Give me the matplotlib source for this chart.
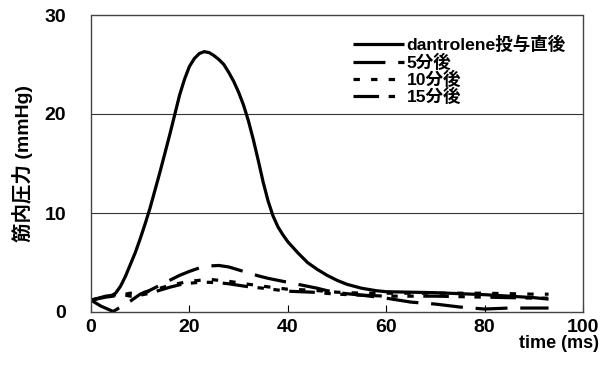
import matplotlib
matplotlib.use("Agg")
import matplotlib.pyplot as plt

plt.rcParams['font.family'] = ['Liberation Sans', 'Noto Sans CJK JP', 'DejaVu Sans']

# data
x_d0 = [0, 1, 2, 3, 4, 5, 6, 7, 8, 9, 10, 11, 12, 13, 14, 15, 16, 17, 18, 19, 20, 21, 22, 23,
        24, 25, 26, 27, 28, 29, 30, 31, 32, 33, 34, 35, 36, 37, 38, 39, 40, 42, 44, 46, 48, 50,
        52, 55, 58, 60, 65, 70, 75, 80, 85, 90, 93]
y_d0 = [1.2, 1.3, 1.4, 1.5, 1.6, 1.9, 2.6, 3.6, 4.8, 6.0, 7.4, 8.9, 10.5, 12.3, 14.1, 16.0,
        17.9, 19.9, 21.9, 23.5, 24.8, 25.6, 26.1, 26.3, 26.2, 25.9, 25.5, 25.0, 24.2, 23.3,
        22.2, 20.9, 19.3, 17.4, 15.3, 13.1, 11.2, 9.7, 8.6, 7.8, 7.1, 6.0, 5.0, 4.3, 3.7, 3.2,
        2.8, 2.4, 2.15, 2.05, 2.0, 1.95, 1.85, 1.75, 1.6, 1.45, 1.3]

x_5 = [0, 2, 4.5, 6, 8, 10, 12, 14, 16, 18, 20, 22, 24, 26, 28, 30, 32, 34, 36, 38, 40, 42, 44,
       46, 48, 50, 55, 60, 65, 70, 75, 80, 85, 90, 93]
y_5 = [1.2, 0.6, 0.05, 0.5, 1.1, 1.8, 2.2, 2.7, 3.2, 3.7, 4.1, 4.45, 4.65, 4.7, 4.55, 4.25,
       3.95, 3.65, 3.4, 3.2, 3.0, 2.8, 2.6, 2.4, 2.15, 1.95, 1.7, 1.4, 1.0, 0.8, 0.5, 0.3, 0.4,
       0.4, 0.4]

x_10 = [0, 3, 6, 8, 10, 12, 14, 16, 18, 20, 22, 24, 26, 28, 30, 32, 35, 40, 45, 50, 55, 60, 70,
        80, 90, 93]
y_10 = [1.2, 1.5, 1.7, 1.9, 1.9, 2.1, 2.4, 2.7, 2.9, 3.1, 3.2, 3.3, 3.2, 3.1, 2.95, 2.8, 2.6,
        2.3, 2.2, 2.0, 1.9, 1.9, 1.9, 1.9, 1.8, 1.8]

x_15 = [0, 3, 6, 8, 10, 12, 14, 16, 18, 20, 22, 24, 26, 28, 30, 32, 35, 40, 45, 50, 55, 60, 70,
        80, 90, 93]
y_15 = [1.2, 1.6, 1.8, 1.6, 1.7, 1.9, 2.2, 2.5, 2.75, 2.9, 3.0, 3.0, 2.95, 2.85, 2.7, 2.55,
        2.4, 2.1, 2.0, 1.8, 1.7, 1.6, 1.6, 1.5, 1.4, 1.4]

labels = ['dantrolene投与直後', '5分後', '10分後', '15分後']
x_ticks = [0, 20, 40, 60, 80, 100]
y_ticks = [0, 10, 20, 30]

fig = plt.figure(figsize=(6.04, 3.83), dpi=100)
ax = fig.add_axes([91 / 604, 1 - 312 / 383, (583 - 91) / 604, (312 - 15) / 383])

lw = 2.3
ax.plot(x_d0, y_d0, color='black', lw=lw, solid_capstyle='butt', solid_joinstyle='round',
        label=labels[0])
ax.plot(x_5, y_5, color='black', lw=lw, dashes=(10, 4), label=labels[1])
ax.plot(x_10, y_10, color='black', lw=lw, dashes=(2.0, 3.5), label=labels[2])
ax.plot(x_15, y_15, color='black', lw=lw, dashes=(8, 3, 2, 3, 2, 3), label=labels[3])

ax.set_xlim(0, 100)
ax.set_ylim(0, 30)
ax.set_xticks(x_ticks)
ax.set_yticks(y_ticks)
for yv in [10, 20]:
    ax.axhline(yv, color='#333333', lw=0.8, zorder=0)

ax.tick_params(axis='x', direction='in', length=5, width=0.8, pad=5, labelsize=14)
ax.tick_params(axis='y', direction='out', length=0, pad=18, labelsize=14)
for lab in ax.get_xticklabels() + ax.get_yticklabels():
    lab.set_fontweight('bold')

for sp in ax.spines.values():
    sp.set_linestyle((0, (1, 1)))
    sp.set_color('#444444')
    sp.set_linewidth(1.0)

ax.set_ylabel('筋内圧力 (mmHg)', fontsize=14, fontweight='bold', labelpad=8)
fig.text(599 / 604, 1 - 344 / 383, 'time (ms)', ha='right', va='center', fontsize=13,
         fontweight='bold')

leg = ax.legend(loc='upper left', bbox_to_anchor=((353 - 91) / 492, 1 - (36 - 15) / 297),
                frameon=False, handlelength=2.9, handletextpad=0.15,
                labelspacing=0.0, borderpad=0, borderaxespad=0,
                prop={'weight': 'bold', 'size': 12.6})

fig.savefig('out.png', dpi=100)
